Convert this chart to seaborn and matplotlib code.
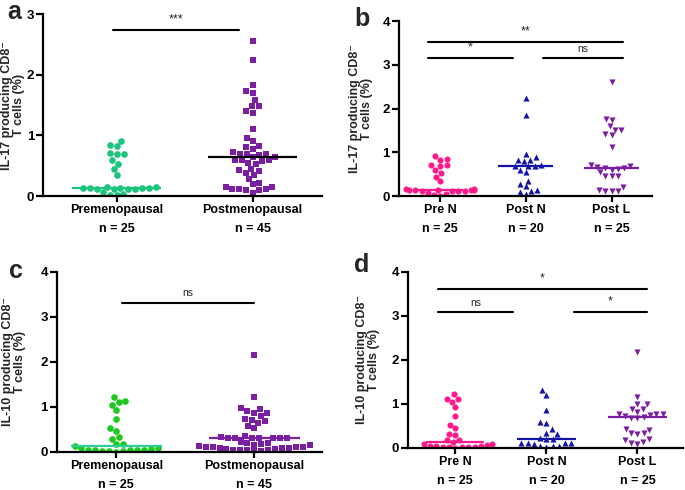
import numpy as np
import matplotlib.pyplot as plt
import seaborn as sns

sns.set_theme(style="ticks")
plt.rcParams["font.family"] = ["Liberation Sans", "DejaVu Sans"]
plt.rcParams.update({
    "font.weight": "bold",
    "axes.linewidth": 1.6,
    "xtick.major.width": 1.6,
    "ytick.major.width": 1.6,
    "xtick.major.size": 4,
    "ytick.major.size": 5,
    "xtick.labelsize": 9,
    "ytick.labelsize": 9.5,
    "axes.labelsize": 9,
    "axes.labelweight": "bold",
})

# ── Data ─────────────────────────────────────────────────────────────────
TWO_GROUPS = ["Premenopausal", "Postmenopausal"]
THREE_GROUPS = ["Pre N", "Post N", "Post L"]
N_TWO = [25, 45]
N_THREE = [25, 20, 25]

PRE_IL17 = [0.91, 0.84, 0.83, 0.69, 0.70, 0.71, 0.60, 0.53, 0.44, 0.34,
            0.14, 0.13, 0.12, 0.11, 0.14, 0.15, 0.15, 0.14, 0.12, 0.12,
            0.13, 0.06, 0.02, 0.01, 0.04]
POST_IL17 = [2.55, 2.24, 1.84, 1.74, 1.70, 1.58, 1.49, 1.48, 1.40, 1.37,
             1.11, 0.96, 0.90, 0.82, 0.81, 0.78, 0.72,
             0.70, 0.70, 0.70, 0.67, 0.65, 0.64, 0.60, 0.59, 0.59, 0.57, 0.55, 0.53,
             0.45, 0.43, 0.42, 0.38, 0.35, 0.28, 0.22,
             0.19, 0.15, 0.12, 0.10, 0.05, 0.10, 0.12, 0.12, 0.15]
POSTN_IL17 = [2.25, 1.85, 0.95, 0.89, 0.82, 0.79, 0.82, 0.71, 0.68, 0.69,
              0.69, 0.55, 0.60, 0.35, 0.22, 0.28, 0.12, 0.10, 0.14, 0.04]
POSTL_IL17 = [2.60, 1.75, 1.73, 1.60, 1.52, 1.51, 1.41, 1.39, 1.12,
              0.72, 0.68, 0.67, 0.64, 0.63, 0.62, 0.60, 0.55,
              0.46, 0.45, 0.46, 0.20, 0.12, 0.12, 0.12, 0.14]

PRE_IL10 = [1.22, 1.11, 1.12, 1.05, 0.93, 0.72, 0.53, 0.46, 0.32, 0.29,
            0.18, 0.17, 0.13, 0.09, 0.06, 0.05, 0.03, 0.02, 0.01, 0.00,
            0.01, 0.03, 0.04, 0.05, 0.08]
POST_IL10 = [2.16, 1.21, 0.97, 0.96, 0.90, 0.87, 0.87, 0.79, 0.74, 0.70,
             0.68, 0.65, 0.57, 0.53,
             0.34, 0.32, 0.31, 0.31, 0.30, 0.30, 0.30, 0.30, 0.30,
             0.21, 0.19, 0.19, 0.17, 0.16, 0.14, 0.12, 0.11,
             0.10, 0.10, 0.09, 0.08, 0.07, 0.06, 0.05, 0.04, 0.03, 0.02,
             0.01, 0.05, 0.08, 0.10]
POSTN_IL10 = [1.32, 1.21, 0.87, 0.58, 0.56, 0.42, 0.34, 0.31, 0.23, 0.21,
              0.20, 0.10, 0.10, 0.05, 0.01, 0.04, 0.05, 0.10, 0.12, 0.08]
POSTL_IL10 = [2.18, 1.16, 0.99, 0.99, 0.89, 0.89, 0.82, 0.76, 0.74, 0.73,
              0.77, 0.78, 0.69, 0.67, 0.70, 0.42, 0.41, 0.33, 0.32, 0.34,
              0.17, 0.12, 0.08, 0.13, 0.21]

GREEN_A = "#1cc47e"
GREEN_C = "#1ec81e"
TEAL_LINE = "#2ccf9a"
PURPLE = "#7a1fa2"
PINK = "#ff1a8c"
BLUE = "#1414a8"

fig = plt.figure(figsize=(6.85, 4.9), dpi=100)


def draw_panel(rect, letter, letter_xy, groups, ns, values, markers, colors,
               line_colors, ymax, ylabel, label_x, xlim, sigs, line_half, msize):
    ax = fig.add_axes(rect)
    for i, (vals, m, c) in enumerate(zip(values, markers, colors)):
        sns.swarmplot(x=[groups[i]] * len(vals), y=vals, order=groups, color=c,
                      marker=m, size=msize, linewidth=0,
                      warn_thresh=1.0, ax=ax, zorder=2)
    for i, (vals, lc, hw) in enumerate(zip(values, line_colors, line_half)):
        ax.hlines(np.median(vals), i - hw, i + hw, color=lc, lw=1.6, zorder=3)
    for x1, x2, y, txt, fs in sigs:
        ax.plot([x1, x2], [y, y], color="black", lw=1.5, clip_on=False)
        ax.text((x1 + x2) / 2, y + ymax * 0.025, txt, ha="center", va="bottom",
                fontsize=fs, fontweight="normal")
    ax.set_ylim(0, ymax)
    ax.set_xlim(*xlim)
    ax.set_yticks(range(ymax + 1))
    ax.set_xticks(range(len(groups)))
    ax.set_xticklabels([f"{g}\nn = {n}" for g, n in zip(groups, ns)],
                       fontweight="bold", linespacing=1.75)
    ax.tick_params(axis="x", pad=2, colors="black")
    ax.tick_params(axis="y", pad=1.5, colors="black")
    for lab in ax.get_yticklabels():
        lab.set_fontweight("bold")
    ax.set_ylabel(ylabel, fontweight="bold", fontsize=9, linespacing=1.0)
    ax.yaxis.set_label_coords(label_x, 0.5)
    ax.yaxis.label.set_va("center")
    ax.set_xlabel("")
    sns.despine(ax=ax)
    ax.spines["left"].set_color("black")
    ax.spines["bottom"].set_color("black")
    fig.text(letter_xy[0] / 685, 1 - letter_xy[1] / 490, letter, fontsize=18,
             fontweight="bold", ha="center", va="center")
    return ax


ylab17 = "IL-17 producing CD8\u207b\nT cells (%)"
ylab10 = "IL-10 producing CD8\u207b\nT cells (%)"

draw_panel([0.063, 0.600, 0.407, 0.371], "a", (14, 12), TWO_GROUPS, N_TWO,
           [PRE_IL17, POST_IL17], ["o", "s"], [GREEN_A, PURPLE],
           [GREEN_A, "black"], 3, ylab17, -0.107, (-0.54, 1.51),
           [(-0.03, 0.90, 2.74, "***", 9)], [0.33, 0.33], 4.8)

draw_panel([0.5825, 0.600, 0.369, 0.357], "b", (362, 19), THREE_GROUPS, N_THREE,
           [PRE_IL17, POSTN_IL17, POSTL_IL17], ["o", "^", "v"],
           [PINK, BLUE, PURPLE], [PINK, BLUE, PURPLE], 4, ylab17, -0.15,
           (-0.48, 2.47),
           [(-0.14, 2.13, 3.53, "**", 9), (-0.14, 0.85, 3.15, "*", 9),
            (1.2, 2.13, 3.15, "ns", 7.5)], [0.27, 0.32, 0.32], 4.4)

draw_panel([0.083, 0.078, 0.387, 0.367], "c", (16, 271), TWO_GROUPS, N_TWO,
           [PRE_IL10, POST_IL10], ["o", "s"], [GREEN_C, PURPLE],
           [TEAL_LINE, PURPLE], 4, ylab10, -0.16, (-0.43, 1.49),
           [(0.04, 1.0, 3.31, "ns", 7.5)], [0.33, 0.33], 4.8)

draw_panel([0.5956, 0.086, 0.4015, 0.359], "d", (362, 265), THREE_GROUPS, N_THREE,
           [PRE_IL10, POSTN_IL10, POSTL_IL10], ["o", "^", "v"],
           [PINK, BLUE, PURPLE], [PINK, BLUE, PURPLE], 4, ylab10, -0.145,
           (-0.52, 2.5),
           [(-0.19, 2.1, 3.61, "*", 9), (-0.19, 0.63, 3.09, "ns", 7.5),
            (1.3, 2.1, 3.09, "*", 9)], [0.32, 0.32, 0.32], 4.4)

fig.savefig("out.png", dpi=100)
